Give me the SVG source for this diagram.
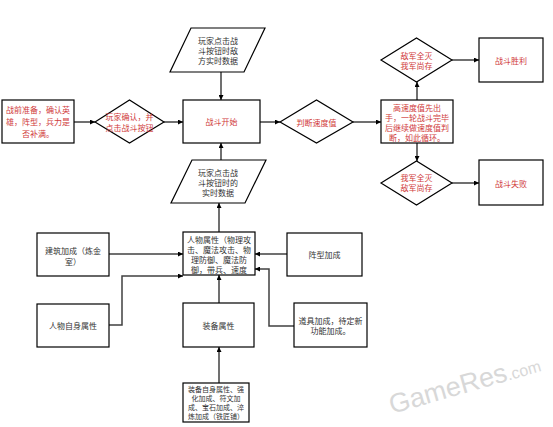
<svg xmlns="http://www.w3.org/2000/svg" width="553" height="427" viewBox="0 0 553 427">
<defs>
<marker id="ah" viewBox="0 0 10 10" refX="10" refY="5" markerWidth="5" markerHeight="5" orient="auto" markerUnits="userSpaceOnUse"><path d="M0,0 L10,5 L0,10 z" fill="#000"/></marker>
</defs>
<style>
.b{fill:#fff;stroke:#000;stroke-width:1.2}
.c{fill:none;stroke:#404040;stroke-width:1.5;marker-end:url(#ah)}
text{font-family:"Noto Sans CJK SC","Noto Sans",sans-serif;font-size:8px;text-anchor:middle;dominant-baseline:central}
.r{fill:#d03a3a}
.k{fill:#333}
.s{font-size:7px}
.wm{font-family:"Liberation Sans",sans-serif;font-size:27px;fill:#d8d8d8;text-anchor:start;dominant-baseline:alphabetic}
</style>
<rect width="553" height="427" fill="#fff"/>
<text class="wm" transform="translate(392,414) rotate(-16)">GameRes<tspan font-size="16px">.com</tspan></text>
<g id="connectors">
<path class="c" d="M74,122 H95"/>
<path class="c" d="M164,122 H183"/>
<path class="c" d="M221,72 V100"/>
<path class="c" d="M221,160 V143"/>
<path class="c" d="M260,122 H280"/>
<path class="c" d="M353,122 H381"/>
<path class="c" d="M417,100 V82"/>
<path class="c" d="M417,143 V161"/>
<path class="c" d="M452,60 H479"/>
<path class="c" d="M452,183 H479"/>
<path class="c" d="M219,232 V203"/>
<path class="c" d="M109,254 H183"/>
<path class="c" d="M109,325 H122 V276 H183"/>
<path class="c" d="M287,254 H255"/>
<path class="c" d="M294,326 H269 V269 H255"/>
<path class="c" d="M219,303 V275"/>
<path class="c" d="M219,383 V347"/>
</g>
<g id="prep"><rect class="b" x="2" y="100" width="72" height="43"/>
<text class="r" x="38" y="109">战前准备，确认英</text><text class="r" x="38" y="121">雄，阵型，兵力是</text><text class="r" x="38" y="133">否补满。</text></g>
<g id="confirm"><polygon class="b" points="95,122 129.5,100 164,122 129.5,143"/>
<text class="r" x="129.5" y="116">玩家确认，并</text><text class="r" x="129.5" y="127">点击战斗按钮</text></g>
<g id="start"><rect class="b" x="183" y="100" width="77" height="43"/><text class="r" x="221.5" y="121.5">战斗开始</text></g>
<g id="enemydata"><polygon class="b" points="191,28 265,28 244,72 170,72"/>
<text class="k" x="218" y="40">玩家点击战</text><text class="k" x="218" y="50">斗按钮时敌</text><text class="k" x="218" y="60">方实时数据</text></g>
<g id="owndata"><polygon class="b" points="192,160 266,160 245,203 171,203"/>
<text class="k" x="218" y="172">玩家点击战</text><text class="k" x="218" y="182">斗按钮时的</text><text class="k" x="218" y="192">实时数据</text></g>
<g id="speed"><polygon class="b" points="280,122 316.5,100 353,122 316.5,143"/><text class="r" x="316.5" y="122">判断速度值</text></g>
<g id="loop"><rect class="b" x="381" y="100" width="72" height="43"/>
<text class="r" x="417" y="107">高速度值先出</text><text class="r" x="417" y="117">手，一轮战斗完毕</text><text class="r" x="417" y="127">后继续做速度值判</text><text class="r" x="417" y="137">断，如此循环。</text></g>
<g id="enemydead"><polygon class="b" points="381,60 416.5,38 452,60 416.5,82"/>
<text class="r" x="416.5" y="55">敌军全灭</text><text class="r" x="416.5" y="65">我军尚存</text></g>
<g id="win"><rect class="b" x="479" y="38" width="64" height="44"/><text class="r" x="511" y="60">战斗胜利</text></g>
<g id="selfdead"><polygon class="b" points="381,183 416.5,161 452,183 416.5,205"/>
<text class="r" x="416.5" y="177">我军全灭</text><text class="r" x="416.5" y="187">敌军尚存</text></g>
<g id="lose"><rect class="b" x="479" y="160" width="64" height="45"/><text class="r" x="511" y="183">战斗失败</text></g>
<g id="attr"><rect class="b" x="183" y="232" width="72" height="43"/>
<text class="k" x="219" y="239">人物属性（物理攻</text><text class="k" x="219" y="249">击、魔法攻击、物</text><text class="k" x="219" y="259">理防御、魔法防</text><text class="k" x="219" y="269">御，带兵、速度</text></g>
<g id="building"><rect class="b" x="37" y="233" width="72" height="43"/>
<text class="k" x="73" y="250">建筑加成（炼金</text><text class="k" x="73" y="261">室）</text></g>
<g id="formation"><rect class="b" x="287" y="233" width="75" height="43"/><text class="k" x="324.5" y="254">阵型加成</text></g>
<g id="self"><rect class="b" x="37" y="304" width="72" height="43"/><text class="k" x="73" y="325">人物自身属性</text></g>
<g id="equip"><rect class="b" x="183" y="303" width="71" height="44"/><text class="k" x="218.5" y="325">装备属性</text></g>
<g id="item"><rect class="b" x="294" y="303" width="73" height="44"/>
<text class="k" x="330.5" y="320">道具加成，待定新</text><text class="k" x="330.5" y="330">功能加成。</text></g>
<g id="equipself"><rect class="b" x="183" y="383" width="66" height="39"/>
<text class="k s" x="216" y="389">装备自身属性、强</text><text class="k s" x="216" y="398">化加成、符文加</text><text class="k s" x="216" y="407">成、宝石加成、淬</text><text class="k s" x="216" y="416">炼加成（铁匠铺）</text></g>
</svg>
